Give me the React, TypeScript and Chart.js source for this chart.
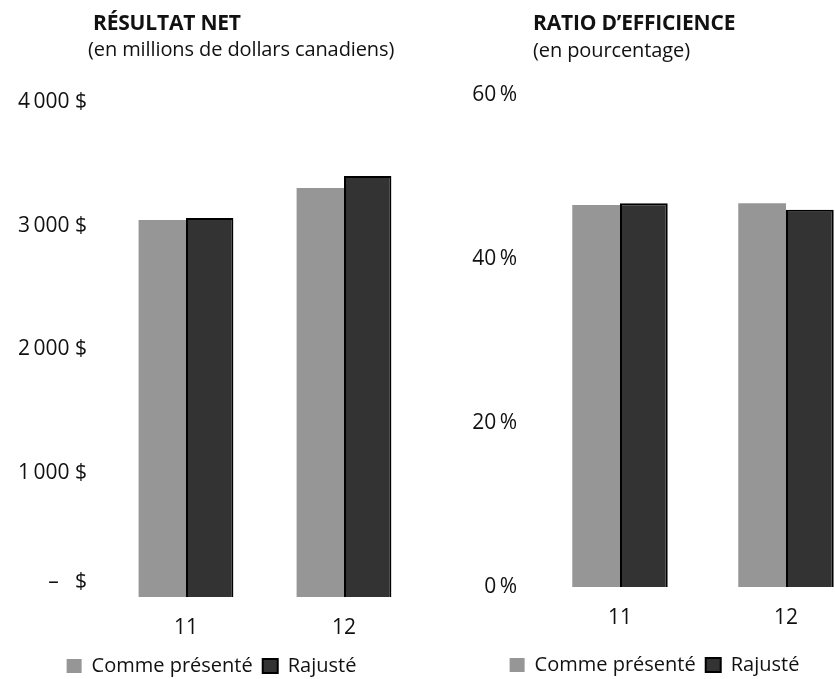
import React, { useEffect, useRef } from 'react';
import { Chart, registerables } from 'chart.js';

Chart.register(...registerables);

// Fiscal years shown on both panels
const years = ['11', '12'];
const seriesNames = ['Comme présenté', 'Rajusté'];

// Net income, millions of CAD
const netReported = [3046, 3305];
const netAdjusted = [3063, 3402];
const netTicks = [0, 1000, 2000, 3000, 4000];

// Efficiency ratio, %
const effReported = [46.6, 46.8];
const effAdjusted = [46.8, 46.0];
const effTicks = [0, 20, 40, 60];

const FONT = "'Open Sans', 'Noto Sans', sans-serif";
const TEXT = '#111111';
const GRAY = '#969696';
const DARK = '#333333';

const money = (v: number): string | string[] => {
  if (v === 0) return ['–   $', ''];
  const s = String(v);
  return `${s.slice(0, -3)}\u2009${s.slice(-3)} $`;
};
const pct = (v: number) => `${v}\u2009%`;

type PanelOpts = {
  reported: number[];
  adjusted: number[];
  ticks: number[];
  max: number;
  fmt: (v: number) => string | string[];
  yWidth: number;
  top: number;
  xHeight: number;
  xPad: number;
  catPct: number;
  padRight: number;
  padBottom: number;
};

function buildConfig(o: PanelOpts): any {
  return {
    type: 'bar',
    data: {
      labels: years,
      datasets: [
        { label: seriesNames[0], data: o.reported, backgroundColor: GRAY, borderWidth: 0 },
        { label: seriesNames[1], data: o.adjusted, backgroundColor: DARK, borderColor: '#000', borderWidth: 2 },
      ],
    },
    options: {
      responsive: false,
      maintainAspectRatio: false,
      animation: false,
      layout: { padding: { top: o.top, right: o.padRight, bottom: o.padBottom, left: 0 } },
      datasets: { bar: { categoryPercentage: o.catPct, barPercentage: 1 } },
      plugins: {
        tooltip: { enabled: false },
        legend: {
          position: 'bottom',
          labels: {
            font: { family: FONT, size: 20 },
            color: TEXT,
            boxWidth: 15,
            boxHeight: 14,
            padding: 10,
          },
        },
      },
      scales: {
        x: {
          grid: { display: false, drawTicks: false },
          border: { display: false },
          ticks: { font: { family: FONT, size: 21 }, color: TEXT, padding: o.xPad },
          afterFit: (s: any) => { s.height = o.xHeight; },
        },
        y: {
          min: 0,
          max: o.max,
          grid: { display: false, drawTicks: false },
          border: { display: false },
          afterBuildTicks: (s: any) => { s.ticks = o.ticks.map((v) => ({ value: v })); },
          afterFit: (s: any) => { s.width = o.yWidth; },
          ticks: {
            color: TEXT,
            padding: 20,
            font: (ctx: any) =>
              ctx.tick && ctx.tick.value === 0
                ? { family: FONT, size: 21, lineHeight: 1.45 }
                : { family: FONT, size: 21 },
            callback: (v: any) => o.fmt(Number(v)),
          },
        },
      },
    },
  };
}

function Panel(props: { left: number; width: number; height: number; opts: PanelOpts }) {
  const ref = useRef<HTMLCanvasElement | null>(null);
  useEffect(() => {
    if (!ref.current) return;
    const chart = new Chart(ref.current, buildConfig(props.opts));
    return () => chart.destroy();
  }, []);
  return (
    <canvas
      ref={ref}
      width={props.width}
      height={props.height}
      style={{ position: 'absolute', left: props.left, top: 0, width: props.width, height: props.height }}
    />
  );
}

const titleStyle = (left: number, top: number, size: number, bold: boolean): React.CSSProperties => ({
  position: 'absolute',
  left,
  top,
  fontFamily: FONT,
  fontSize: size,
  fontWeight: bold ? 700 : 400,
  lineHeight: '26px',
  color: TEXT,
  whiteSpace: 'nowrap',
  letterSpacing: bold ? '-0.2px' : '-0.1px',
});

export default function App() {
  return (
    <div
      style={{
        position: 'fixed',
        left: 0,
        top: 0,
        width: 835,
        height: 679,
        overflow: 'hidden',
        background: '#fff',
      }}
    >
      <Panel
        left={0}
        width={423}
        height={700}
        opts={{
          reported: netReported,
          adjusted: netAdjusted,
          ticks: netTicks,
          max: 4000,
          fmt: money,
          yWidth: 107,
          top: 102,
          xHeight: 49,
          xPad: 18,
          catPct: 0.6,
          padRight: 0,
          padBottom: 14,
        }}
      />
      <Panel
        left={440}
        width={456}
        height={700}
        opts={{
          reported: effReported,
          adjusted: effAdjusted,
          ticks: effTicks,
          max: 60,
          fmt: pct,
          yWidth: 97,
          top: 95,
          xHeight: 58,
          xPad: 18,
          catPct: 0.575,
          padRight: 27,
          padBottom: 15,
        }}
      />
      <div style={titleStyle(93, 9, 21, true)}>RÉSULTAT NET</div>
      <div style={titleStyle(88, 36, 20, false)}>(en millions de dollars canadiens)</div>
      <div style={titleStyle(533, 9, 21, true)}>RATIO D’EFFICIENCE</div>
      <div style={titleStyle(533, 37, 20, false)}>(en pourcentage)</div>
    </div>
  );
}
